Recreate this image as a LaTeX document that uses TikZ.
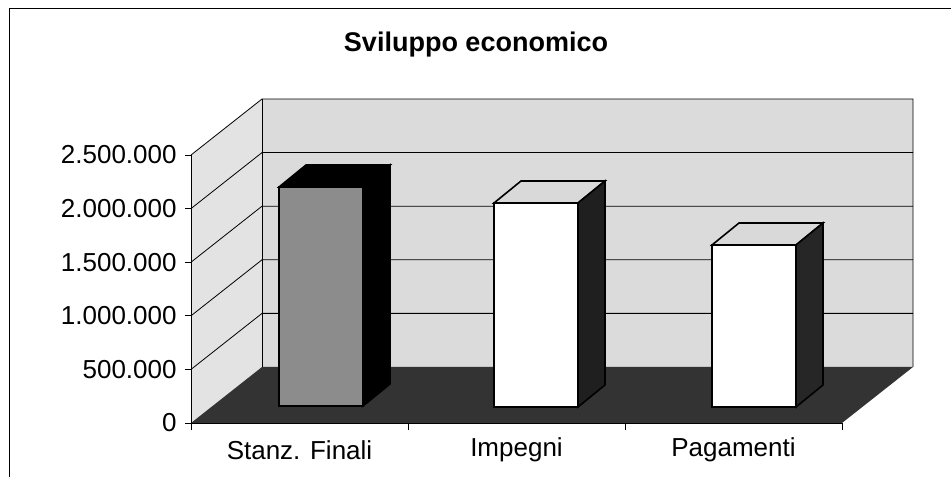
\documentclass[tikz,border=0pt]{standalone}
\usepackage{fontspec}
\setmainfont{Liberation Sans}

\tikzset{
    axislabel/.style={font=\fontsize{26}{30}\selectfont, inner sep=0pt},
    barface/.style={draw=black, line width=1.6pt, line join=miter},
}

\begin{document}
\begin{tikzpicture}[x=1pt, y=1pt, line width=0.8pt]
    \useasboundingbox (0,0) rectangle (951,477);
    \draw [line width=1pt] (9,0) -- (9,468) -- (951,468);

    \node (title) at (476,432) {\fontsize{27}{32}\selectfont\bfseries Sviluppo economico};

    % walls and floor
    \fill [black!11] (191,54) -- (191,322) -- (262,378) -- (262,110) -- cycle;
    \fill [black!14] (262,110) rectangle (913,378);
    \fill [black!80] (191,54) -- (842,54) -- (913,110) -- (262,110) -- cycle;
    \draw (191,322) -- (262,378) -- (913,378) -- (913,110);
    \draw (262,110) -- (262,378);
    \foreach \k in {1,...,4}
        \draw (191,54+53.6*\k) -- (262,110+53.6*\k) -- (913,110+53.6*\k);

    % axes
    \draw (191,54) -- (191,322);
    \draw (191,54) -- (842,54);
    \foreach \k in {0,...,5}
        \draw (185,54+53.6*\k) -- (191,54+53.6*\k);
    \foreach \x in {191,408,625,842}
        \draw (\x,54) -- (\x,47);

    \foreach \v [count=\i from 0] in {0,500.000,1.000.000,1.500.000,2.000.000,2.500.000}
        \node (ytick\i) [axislabel, anchor=east] at (177,54+53.6*\i) {\v};

    % bars
    \filldraw [barface, fill=black!45] (279,71) rectangle (363,290);
    \filldraw [barface, fill=black] (279,290) -- (306,312) -- (390,312) -- (363,290) -- cycle;
    \filldraw [barface, fill=black] (363,71) -- (390,93) -- (390,312) -- (363,290) -- cycle;

    \filldraw [barface, fill=white] (494,70) rectangle (578,274);
    \filldraw [barface, fill=black!15] (494,274) -- (521,296) -- (605,296) -- (578,274) -- cycle;
    \filldraw [barface, fill=black!88] (578,70) -- (605,92) -- (605,296) -- (578,274) -- cycle;

    \filldraw [barface, fill=white] (712,70) rectangle (796,232);
    \filldraw [barface, fill=black!15] (712,232) -- (739,254) -- (823,254) -- (796,232) -- cycle;
    \filldraw [barface, fill=black!85] (796,70) -- (823,92) -- (823,254) -- (796,232) -- cycle;

    \node (stanz) [axislabel] at (299.5,27) {Stanz. Finali};
    \node (impegni) [axislabel] at (516.5,27) {Impegni};
    \node (pagamenti) [axislabel] at (733.5,27) {Pagamenti};
\end{tikzpicture}
\end{document}
